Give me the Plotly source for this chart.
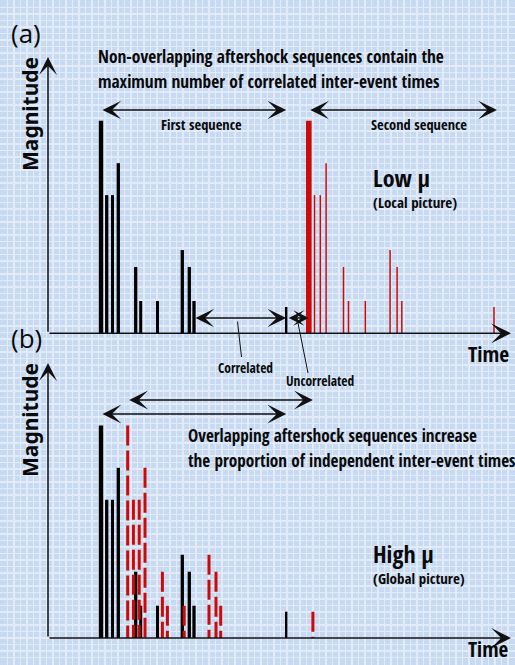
import plotly.graph_objects as go

# ---------------- data ----------------
# One aftershock sequence: event time after the mainshock and event magnitude (schematic units)
event_dt = [0.0, 5.7, 11.5, 17.3, 34.7, 39.7, 56.5, 81.3, 88.3, 93.0, 185.2]
event_mag = [6.38, 4.15, 4.15, 5.11, 1.99, 0.97, 0.97, 2.50, 1.99, 0.97, 0.79]
seq1_start = 53.0          # first sequence (both panels)
seq2_start_low = 260.8     # second sequence, panel (a): low mu, no overlap
seq2_start_high = 79.7     # second sequence, panel (b): high mu, overlapping

# ---------------- styles / layout constants ----------------
W, H = 515, 665
X0 = 48.0                  # pixel of time origin
PX_PER_MAG = 33.3          # pixels per magnitude unit
BASE_A, BASE_B = 333.3, 638.0
BLACK = "#000000"
RED = "#cc0a0a"
FONT = "Open Sans Condensed"
seq1_widths = [4.4, 3.3, 3.0, 3.3, 3.3, 3.0, 3.0, 3.3, 3.3, 3.3, 2.4]
seq2_low_widths = [5.6] + [1.5] * 10
seq2_high_width = 3.0

t1 = [seq1_start + d for d in event_dt]
t2a = [seq2_start_low + d for d in event_dt]
t2b = [seq2_start_high + d for d in event_dt]

fig = go.Figure()

# panel (a)
fig.add_trace(go.Bar(x=t1, y=event_mag, width=seq1_widths, marker=dict(color=BLACK, line=dict(width=0)),
                     xaxis="x2", yaxis="y2", showlegend=False, hoverinfo="skip"))
fig.add_trace(go.Bar(x=t2a, y=event_mag, width=seq2_low_widths, marker=dict(color=RED, line=dict(width=0)),
                     xaxis="x2", yaxis="y2", showlegend=False, hoverinfo="skip"))
# panel (b)
fig.add_trace(go.Bar(x=t1, y=event_mag, width=seq1_widths, marker=dict(color=BLACK, line=dict(width=0)),
                     xaxis="x3", yaxis="y3", showlegend=False, hoverinfo="skip"))
for t, m in zip(t2b, event_mag):
    fig.add_trace(go.Scatter(x=[t, t], y=[m, 0], mode="lines",
                             line=dict(color=RED, width=seq2_high_width, dash="20px,5px"),
                             xaxis="x3", yaxis="y3", showlegend=False, hoverinfo="skip"))


def arrow(xref, x0, x1, y0, y1, both=True, width=1.3, size=2.4, yref="y"):
    fig.add_annotation(x=x1, y=y1, ax=x0, ay=y0, xref=xref, yref=yref, axref=xref, ayref=yref,
                       text="", showarrow=True, arrowhead=3, startarrowhead=3,
                       arrowside="end+start" if both else "end",
                       arrowsize=size, startarrowsize=size, arrowwidth=width, arrowcolor="#111111",
                       standoff=0, startstandoff=0)


# axes (arrows)
for base, top in [(BASE_A, 57), (BASE_B, 363)]:
    arrow("x2", 0, 0, base, top, both=False, width=1.5, size=2.0)
    arrow("x2", 0, 463, base, base, both=False, width=1.5, size=2.2)

# sequence arrows, panel (a)
arrow("x2", t1[0], t1[-1], 110, 110)
arrow("x2", t2a[0], t2a[-1] + 3, 110, 110)
arrow("x2", t1[-2], t1[-1], 318, 318)
arrow("x2", t1[-1] + 1, t2a[0], 318, 318, size=2.0)
# sequence arrows, panel (b)
arrow("x2", t2b[0], t2b[-1], 400, 400, width=1.5, size=2.1)
arrow("x2", t1[0], t1[-1], 414, 414, width=1.5, size=2.1)

# leader lines
for (xa, ya, xb, yb) in [(237.5, 321.7, 241.5, 357), (298, 323, 308, 373)]:
    fig.add_shape(type="line", x0=xa, y0=ya, x1=xb, y1=yb, xref="x", yref="y",
                  line=dict(color="#111111", width=1))


def label(txt, x, y, size, weight=600, anchor="left", angle=0, family=FONT, yanchor="middle"):
    fig.add_annotation(x=x, y=y, xref="x", yref="y", text=txt, showarrow=False, xanchor=anchor,
                       yanchor=yanchor, textangle=angle,
                       font=dict(family=family, size=size, weight=weight, color="#0a0a0a"))


label("(a)", 9, 33, 26, weight=400, family="Open Sans")
label("(b)", 9, 338, 26, weight=400, family="Open Sans")
label("Magnitude", 30, 114, 21, weight=700, anchor="center", angle=-90, family="Noto Sans")
label("Magnitude", 30, 420, 21, weight=700, anchor="center", angle=-90, family="Noto Sans")
label("Non-overlapping aftershock sequences contain the", 96, 56, 17.4)
label("maximum number of correlated inter-event times", 96, 81, 17.4)
label("First sequence", 201, 124, 14.5, anchor="center")
label("Second sequence", 419, 124, 14.5, anchor="center")
label("Low \u03bc", 371, 177, 24)
label("(Local picture)", 371, 202, 15)
label("Correlated", 245, 368, 13.5, anchor="center")
label("Uncorrelated", 320, 381, 13.5, anchor="center")
label("Time", 466, 353, 21.5)
label("Overlapping aftershock sequences increase", 186, 435, 17.2)
label("the proportion of independent inter-event times", 186, 460, 17.2)
label("High \u03bc", 371, 553, 24)
label("(Global picture)", 371, 578, 15)
label("Time", 466, 665, 21, yanchor="bottom")

hidden = dict(visible=False, fixedrange=True)
fig.update_layout(
    width=W, height=H, margin=dict(l=0, r=0, t=0, b=0),
    paper_bgcolor="#c7daf2", plot_bgcolor="rgba(0,0,0,0)",
    barmode="overlay", hovermode=False, showlegend=False,
    xaxis=dict(domain=[0, 1], range=[0, W], dtick=6.5, tick0=1, showgrid=True, gridcolor="#e2ebf8",
               gridwidth=1.5, zeroline=False, showticklabels=False, ticks="", fixedrange=True),
    yaxis=dict(domain=[0, 1], range=[H, 0], dtick=6.5, tick0=1, showgrid=True, gridcolor="#e2ebf8",
               gridwidth=1.5, zeroline=False, showticklabels=False, ticks="", fixedrange=True),
    xaxis2=dict(domain=[0, 1], range=[-X0, W - X0], anchor="y2", **hidden),
    yaxis2=dict(domain=[0, 1], range=[(BASE_A - H) / PX_PER_MAG, BASE_A / PX_PER_MAG], anchor="x2", **hidden),
    xaxis3=dict(domain=[0, 1], range=[-X0, W - X0], anchor="y3", **hidden),
    yaxis3=dict(domain=[0, 1], range=[(BASE_B - H) / PX_PER_MAG, BASE_B / PX_PER_MAG], anchor="x3", **hidden),
)
fig.write_html("out.html", config={"staticPlot": True})
